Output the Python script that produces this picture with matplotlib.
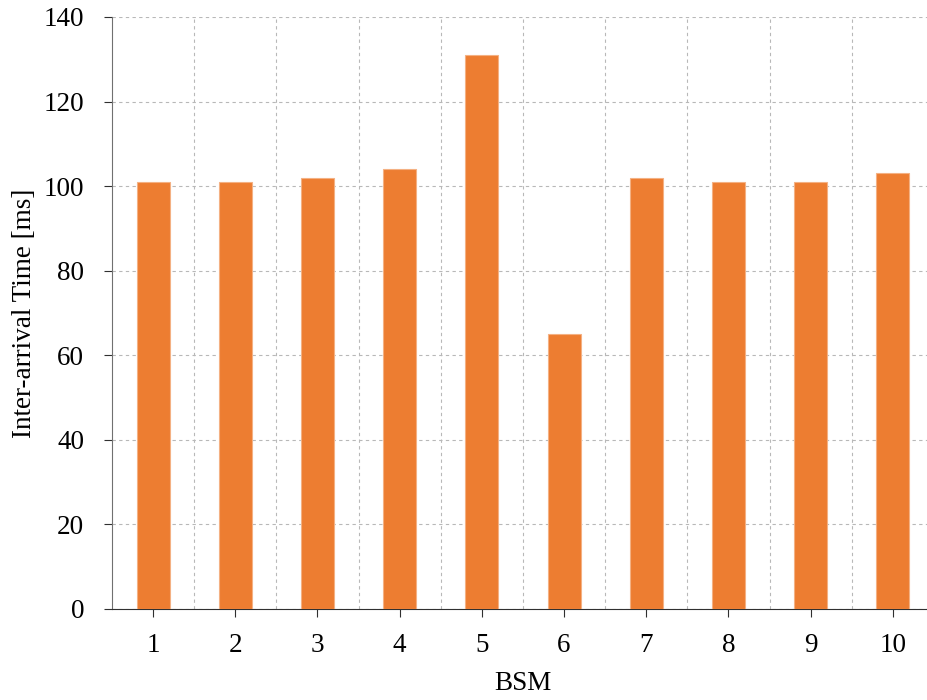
import numpy as np
import matplotlib.pyplot as plt

plt.rcParams['font.family'] = 'Liberation Serif'

# BSM index and measured inter-arrival times
bsm = [1, 2, 3, 4, 5, 6, 7, 8, 9, 10]
times = [101, 101, 102, 104, 131, 65, 102, 101, 101, 103]
yticks = [0, 20, 40, 60, 80, 100, 120, 140]

fig = plt.figure(figsize=(9.28, 7.0), dpi=100)
ax = fig.add_axes([112/928, (700-609)/700, (934-112)/928, (609-17)/700])

ax.bar(bsm, times, width=0.4, color='#ED7D31', edgecolor='#F4B183',
       linewidth=0.8, zorder=3)

ax.set_xlim(0.5, 10.5)
ax.set_ylim(0, 140)
ax.set_xticks(bsm)
ax.set_yticks(yticks)
ax.set_xticks(np.arange(1.5, 11, 1), minor=True)

ax.grid(True, which='major', axis='y', linestyle=(0, (3, 3)), color='#b8b8b8', linewidth=0.8, zorder=0)
ax.grid(True, which='minor', axis='x', linestyle=(0, (3, 3)), color='#b8b8b8', linewidth=0.8, zorder=0)

for s in ['top', 'right']:
    ax.spines[s].set_visible(False)
ax.spines['left'].set_color('#707070')
ax.spines['bottom'].set_color('#303030')
ax.tick_params(axis='both', which='major', direction='out', length=6, width=0.8,
               labelsize=19.5, colors='#303030', labelcolor='black')
ax.tick_params(axis='y', which='major', pad=14)
ax.tick_params(axis='x', which='major', pad=11.5)
ax.tick_params(axis='x', which='minor', length=0)
for lab in ax.get_xticklabels() + ax.get_yticklabels():
    lab.set_family('Liberation Serif')

ax.set_xlabel('BSM', fontsize=19.5, labelpad=9, family='Liberation Serif')
ax.set_ylabel('Inter-arrival Time [ms]', fontsize=19.5, labelpad=5, family='Liberation Serif')

fig.savefig('out.png', dpi=100)
